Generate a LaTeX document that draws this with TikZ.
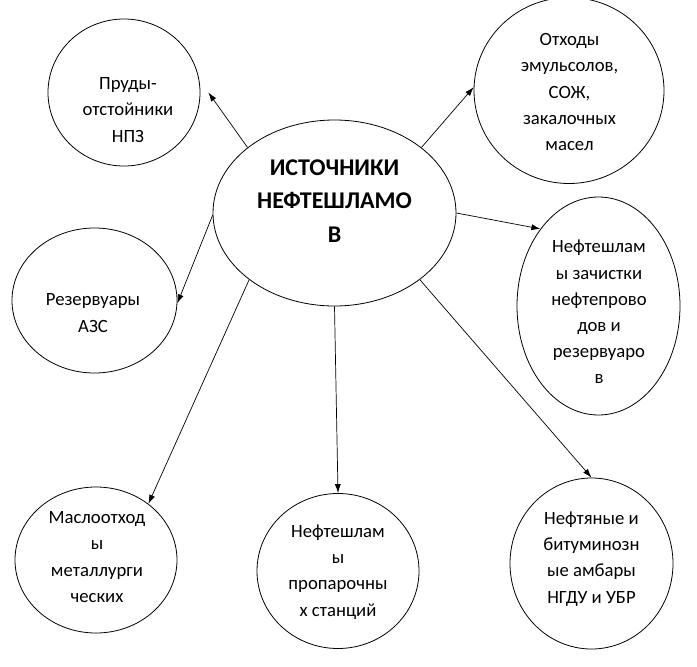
\documentclass[tikz,border=0pt]{standalone}
\usepackage{fontspec}
\setmainfont{Carlito}
\usetikzlibrary{arrows.meta,shapes.geometric}

\begin{document}
\begin{tikzpicture}[x=1pt,y=-1pt,
   src/.style={draw, ellipse, line width=0.8pt, inner sep=0pt},
   srctext/.style={align=center, font=\fontsize{18.7}{26.2}\selectfont},
   arr/.style={-{Latex[length=9pt,width=6pt]}, line width=0.7pt}]
   \useasboundingbox (0,0) rectangle (697,667);

   \node[src, minimum width=243pt, minimum height=186pt] (ctr) at (334.5,213) {};
   \node[srctext, font=\bfseries\fontsize{24}{33.5}\selectfont] (ctr-t) at (334.5,201) {ИСТОЧНИКИ\\НЕФТЕШЛАМО\\В};

   \node[src, minimum width=152pt, minimum height=147pt] (pond) at (124,92.5) {};
   \node[srctext] (pond-t) at (128,110) {Пруды-\\отстойники\\НПЗ};

   \node[src, minimum width=165pt, minimum height=145pt] (azs) at (94.5,300.5) {};
   \node[srctext] (azs-t) at (93,313) {Резервуары\\АЗС};

   \node[src, minimum width=190pt, minimum height=186pt] (waste) at (569,90.5) {};
   \node[srctext] (waste-t) at (569.5,92) {Отходы\\эмульсолов,\\СОЖ,\\закалочных\\масел};

   \node[src, minimum width=163pt, minimum height=218pt] (tank) at (598.5,306) {};
   \node[srctext] (tank-t) at (599,312) {Нефтешлам\\ы зачистки\\нефтепрово\\дов и\\резервуаро\\в};

   \node[src, minimum width=162pt, minimum height=146pt] (metal) at (96,560) {};
   \node[srctext] (metal-t) at (97,557) {Маслоотход\\ы\\металлурги\\ческих};

   \node[src, minimum width=162pt, minimum height=155pt] (steam) at (338,571) {};
   \node[srctext] (steam-t) at (338,572) {Нефтешлам\\ы\\пропарочны\\х станций};

   \node[src, minimum width=163pt, minimum height=171pt] (pit) at (591.5,563.5) {};
   \node[srctext] (pit-t) at (591.5,559) {Нефтяные и\\битуминозн\\ые амбары\\НГДУ и УБР};

   \draw[arr] (ctr.143) -- ([xshift=8pt]pond.east);
   \draw[arr] (ctr.181) -- (azs.-2);
   \draw[arr] (ctr.37) -- (waste.178);
   \draw[arr] (ctr.0) -- (tank.127);
   \draw[arr] (ctr.-38) -- (pit.north);
   \draw[arr] (ctr.south) -- (steam.north);
   \draw[arr] (ctr.218) -- (metal.47);

\end{tikzpicture}
\end{document}
